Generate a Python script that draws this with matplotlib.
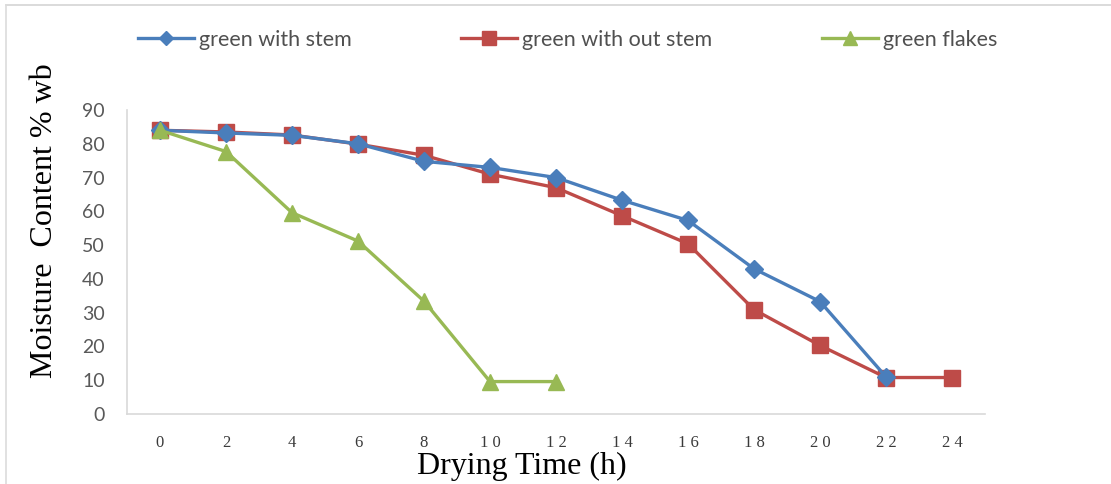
import matplotlib
matplotlib.use("Agg")
import matplotlib.pyplot as plt
from matplotlib.lines import Line2D

hours = [0, 2, 4, 6, 8, 10, 12, 14, 16, 18, 20, 22, 24]
tick_labels = ["0", "2", "4", "6", "8", "1 0", "1 2", "1 4", "1 6", "1 8", "2 0", "2 2", "2 4"]

with_stem = [84, 83.2, 82.5, 80, 74.8, 73, 70, 63.3, 57.3, 43, 33.3, 11]
without_stem = [84, 83.5, 82.6, 79.9, 76.6, 71, 67, 58.7, 50.4, 30.9, 20.3, 10.8, 10.8]
flakes = [84, 77.7, 59.6, 51.2, 33.4, 9.6, 9.6]

c_blue = "#4A7EBB"
c_red = "#BE4B48"
c_green = "#98B954"

W, H = 1111, 484
fig = plt.figure(figsize=(W / 100, H / 100), dpi=100)

# thin frame along the top and left edges
fig.add_artist(Line2D([6 / W, 1.0], [1 - 5 / H, 1 - 5 / H], transform=fig.transFigure,
                      color="#d4d4d4", lw=1.2))
fig.add_artist(Line2D([6 / W, 6 / W], [0, 1 - 5 / H], transform=fig.transFigure,
                      color="#dcdcdc", lw=1.2))

ax = fig.add_axes([127 / W, 1 - 414 / H, 858 / W, 304 / H])

l1, = ax.plot(hours[:len(with_stem)], with_stem, color=c_blue, lw=2.4, marker="D",
              markersize=9, zorder=3)
l2, = ax.plot(hours[:len(without_stem)], without_stem, color=c_red, lw=2.4, marker="s",
              markersize=11, zorder=2)
l3, = ax.plot(hours[:len(flakes)], flakes, color=c_green, lw=2.4, marker="^",
              markersize=11, zorder=4)

ax.set_xlim(-1, 25)
ax.set_ylim(0, 90)
ax.set_yticks(range(0, 91, 10))
ax.set_xticks(hours)
ax.set_xticklabels(tick_labels)

for s in ["top", "right"]:
    ax.spines[s].set_visible(False)
for s in ["left", "bottom"]:
    ax.spines[s].set_color("#d9d9d9")
    ax.spines[s].set_linewidth(1.2)
ax.tick_params(length=0)
ax.tick_params(axis="y", pad=16, labelsize=14, labelcolor="#595959")
ax.tick_params(axis="x", pad=15, labelsize=12, labelcolor="#3a3a3a")
for t in ax.get_yticklabels():
    t.set_fontfamily("Lato")
for t in ax.get_xticklabels():
    t.set_fontfamily("Liberation Serif")

fig.text(45 / W, 1 - 221 / H, "Moisture  Content % wb", family="Liberation Serif",
         fontsize=23, color="black", rotation=90, ha="center", va="center")
fig.text(522 / W, 1 - 452 / H, "Drying Time (h)", family="Liberation Serif",
         fontsize=23, color="black", ha="center", va="top")

# legend entries along the top
entries = [(l1, "green with stem", 138, 7), (l2, "green with out stem", 461, 10),
           (l3, "green flakes", 822, 10)]
for line, label, x0, ms in entries:
    h = Line2D([], [], color=line.get_color(), lw=2.4, marker=line.get_marker(),
               markersize=ms)
    leg = fig.legend(handles=[h], labels=[label], loc="center left",
                     bbox_to_anchor=(x0 / W, 1 - 40 / H), frameon=False,
                     borderpad=0, borderaxespad=0, handlelength=2.6,
                     handletextpad=0.25, prop={"family": "Lato", "size": 15.5})
    for t in leg.get_texts():
        t.set_color("#505050")

fig.savefig("out.png", dpi=100)
